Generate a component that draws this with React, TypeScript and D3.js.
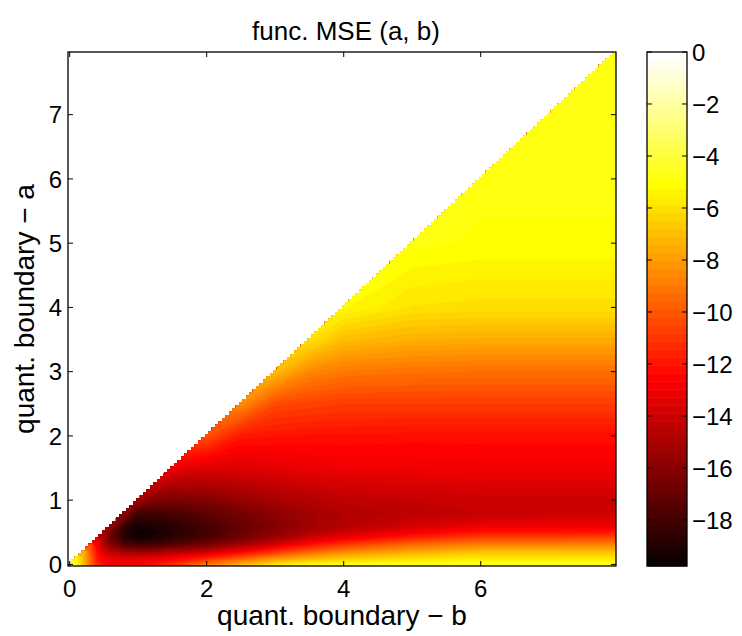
import React from "react";
import * as d3 from "d3";

// grid positions (quant. boundary b = columns, a = rows)
const bValues = [0, 0.1, 0.2, 0.3, 0.4, 0.5, 0.6, 0.8, 1.0, 1.25, 1.5, 2, 2.5, 3, 3.5, 4, 5, 6, 7, 8];
const aValues = [0, 0.1, 0.2, 0.3, 0.4, 0.5, 0.6, 0.8, 1.0, 1.25, 1.5, 2, 2.5, 3, 3.5, 4, 5, 6, 7, 8];

// MSE (dB), one array per b column, for a = aValues[0..j] (a <= b)
const mseB0 = [0];
const mseB01 = [-5.0, -5.2];
const mseB02 = [-7.0, -7.2, -7.4];
const mseB03 = [-9.4, -9.6, -9.9, -10.2];
const mseB04 = [-11.4, -11.8, -12.4, -13.0, -13.3];
const mseB05 = [-12.2, -12.8, -13.8, -14.8, -15.3, -15.0];
const mseB06 = [-12.5, -13.2, -14.6, -16.0, -16.8, -16.8, -15.4];
const mseB08 = [-12.7, -13.5, -15.4, -17.4, -18.6, -18.8, -18.4, -15.8];
const mseB10 = [-12.5, -13.5, -15.6, -17.8, -19.3, -19.6, -19.3, -18.0, -15.2];
const mseB125 = [-12.0, -13.3, -15.5, -17.8, -19.0, -19.3, -19.0, -18.0, -16.2, -14.2];
const mseB15 = [-11.2, -12.8, -15.0, -17.3, -18.5, -18.9, -18.7, -17.8, -16.4, -14.8, -13.0];
const mseB2 = [-9.0, -11.6, -14.2, -16.4, -17.6, -18.0, -17.9, -17.2, -16.2, -14.8, -13.6, -10.2];
const mseB25 = [-7.4, -10.0, -12.8, -15.0, -16.4, -16.9, -17.0, -16.5, -15.6, -14.5, -13.5, -11.9, -8.4];
const mseB3 = [-5.9, -8.6, -11.2, -13.6, -15.2, -15.9, -16.1, -15.8, -15.1, -14.2, -13.3, -12.0, -10.4, -7.0];
const mseB35 = [-5.2, -7.6, -9.8, -12.0, -13.8, -14.8, -15.3, -15.2, -14.7, -13.9, -13.1, -12.1, -10.6, -8.6, -5.9];
const mseB4 = [-4.9, -6.9, -8.7, -10.8, -12.8, -14.0, -14.7, -14.8, -14.4, -13.7, -13.0, -12.1, -10.8, -9.0, -7.0, -5.2];
const mseB5 = [-4.8, -6.2, -7.7, -9.4, -11.3, -12.8, -13.8, -14.4, -14.2, -13.6, -12.9, -12.2, -10.8, -9.2, -7.4, -5.9, -4.85];
const mseB6 = [-4.8, -5.8, -7.0, -8.7, -10.4, -12.0, -13.1, -14.2, -14.1, -13.5, -12.8, -12.2, -10.8, -9.3, -7.5, -6.0, -5.0, -4.85];
const mseB7 = [-4.8, -5.8, -7.0, -8.7, -10.4, -12.0, -13.1, -14.0, -14.0, -13.5, -12.8, -12.2, -10.8, -9.3, -7.5, -6.0, -5.0, -4.85, -4.8];
const mseB8 = [-4.8, -5.8, -7.0, -8.6, -10.3, -11.9, -13.0, -13.9, -14.0, -13.5, -12.8, -12.2, -10.8, -9.3, -7.5, -6.0, -5.0, -4.85, -4.8, -4.8];

const mseColumns = [mseB0, mseB01, mseB02, mseB03, mseB04, mseB05, mseB06, mseB08, mseB10, mseB125, mseB15,
  mseB2, mseB25, mseB3, mseB35, mseB4, mseB5, mseB6, mseB7, mseB8];

const xTicks = [0, 2, 4, 6];
const yTicks = [0, 1, 2, 3, 4, 5, 6, 7];
const cbTicks = [0, -2, -4, -6, -8, -10, -12, -14, -16, -18];
const colorMin = -19.77;
const colorMax = 0;
const axisMin = -0.025;
const axisMax = 7.975;

const nLevels = 64;
function hot(k: number) {
  const i = k + 1;
  const r = Math.min(1, i / 24);
  const g = Math.max(0, Math.min(1, (i - 24) / 24));
  const b = Math.max(0, Math.min(1, (i - 48) / 16));
  return d3.rgb(r * 255, g * 255, b * 255).formatHex();
}

const FONT = "'Liberation Sans', Arial, Helvetica, sans-serif";
const fmt = (v: number) => (v < 0 ? "\u2212" + Math.abs(v) : String(v));

export default function App() {
  const W = 742, H = 636;
  const left = 68, right = 616, top = 52, bottom = 566;
  const cbLeft = 647, cbRight = 687;
  const tick = 5;

  const x = d3.scaleLinear([axisMin, axisMax], [left, right]);
  const y = d3.scaleLinear([axisMin, axisMax], [bottom, top]);
  const yc = d3.scaleLinear([colorMin, colorMax], [bottom, top]);

  const nx = bValues.length, ny = aValues.length;
  const grid: number[] = new Array(nx * ny);
  for (let i = 0; i < ny; i++)
    for (let j = 0; j < nx; j++)
      grid[i * nx + j] = j >= i ? mseColumns[j][i] : mseColumns[i][i];

  const step = (colorMax - colorMin) / nLevels;
  const thresholds = d3.range(nLevels).map((k) => colorMin + k * step);
  const contours = d3.contours().size([nx, ny]).thresholds(thresholds)(grid);

  const uToB = d3.scaleLinear([0, ...bValues.map((_, j) => j + 0.5), nx], [-0.05, ...bValues, 8.05]);
  const vToA = d3.scaleLinear([0, ...aValues.map((_, i) => i + 0.5), ny], [-0.05, ...aValues, 8.05]);
  const proj = d3.geoTransform({
    point(px: number, py: number) {
      (this as any).stream.point(x(uToB(px)), y(vToA(py)));
    },
  });
  const path = d3.geoPath(proj as any);

  const cell = 0.05;
  const stair: [number, number][] = [[x(axisMin), y(axisMin)]];
  d3.range(160).forEach((k) => {
    const bc = k * cell;
    stair.push([x(bc - cell / 2), y(bc + cell / 2)], [x(bc + cell / 2), y(bc + cell / 2)]);
  });
  stair.push([x(axisMax), y(axisMin)]);
  const clipD = (d3.line()(stair) || "") + "Z";

  return (
    <svg width={W} height={H} style={{ position: "absolute", left: 0, top: 0, background: "#fff" }}
      fontFamily={FONT}>
      <defs>
        <clipPath id="tri"><path d={clipD} /></clipPath>
      </defs>
      <g clipPath="url(#tri)">
        {contours.map((c, k) => (
          <path key={k} d={path(c as any) || ""} fill={hot(k)} stroke={hot(k)} strokeWidth={0.4} fillRule="evenodd" />
        ))}
      </g>
      {/* axes ticks */}
      <g stroke="#000" strokeWidth={1}>
        {xTicks.map((t) => (
          <g key={"x" + t}>
            <line x1={x(t)} x2={x(t)} y1={bottom} y2={bottom - tick} />
            <line x1={x(t)} x2={x(t)} y1={top} y2={top + tick} />
          </g>
        ))}
        {yTicks.map((t) => (
          <g key={"y" + t}>
            <line x1={left} x2={left + tick} y1={y(t)} y2={y(t)} />
            <line x1={right} x2={right - tick} y1={y(t)} y2={y(t)} />
          </g>
        ))}
      </g>
      <rect x={left} y={top} width={right - left} height={bottom - top} fill="none" stroke="#000" strokeWidth={1.3} />
      {xTicks.map((t) => (
        <text key={"xl" + t} x={x(t)} y={597} fontSize={24} textAnchor="middle">{fmt(t)}</text>
      ))}
      {yTicks.map((t) => (
        <text key={"yl" + t} x={62} y={y(t)} dy="0.36em" fontSize={24} textAnchor="end">{fmt(t)}</text>
      ))}
      <text x={(left + right) / 2} y={625} fontSize={28} textAnchor="middle">quant. boundary − b</text>
      <text transform={`translate(34,${(top + bottom) / 2}) rotate(-90)`} fontSize={28} textAnchor="middle">quant. boundary − a</text>
      <text x={(left + right) / 2 + 4} y={40} fontSize={26} textAnchor="middle">func. MSE (a, b)</text>

      {/* colorbar */}
      {d3.range(nLevels).map((k) => (
        <rect key={"cb" + k} x={cbLeft} width={cbRight - cbLeft}
          y={yc(colorMin + (k + 1) * step)} height={yc(colorMin + k * step) - yc(colorMin + (k + 1) * step) + 0.5}
          fill={hot(k)} />
      ))}
      <g stroke="#000" strokeWidth={1}>
        {cbTicks.map((t) => (
          <g key={"cbt" + t}>
            <line x1={cbLeft} x2={cbLeft + tick} y1={yc(t)} y2={yc(t)} />
            <line x1={cbRight} x2={cbRight - tick} y1={yc(t)} y2={yc(t)} />
          </g>
        ))}
      </g>
      <rect x={cbLeft} y={top} width={cbRight - cbLeft} height={bottom - top} fill="none" stroke="#000" strokeWidth={1.3} />
      {cbTicks.map((t) => (
        <text key={"cbl" + t} x={692} y={yc(t)} dy="0.36em" fontSize={24} textAnchor="start">{fmt(t)}</text>
      ))}
    </svg>
  );
}
